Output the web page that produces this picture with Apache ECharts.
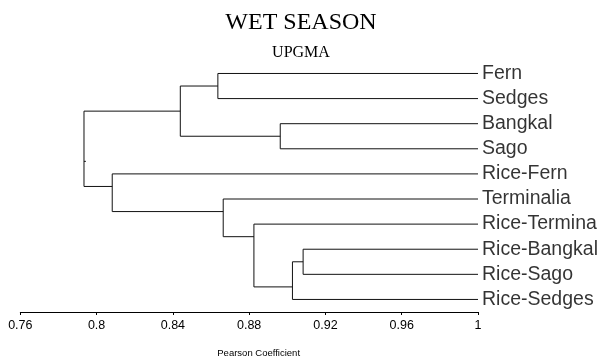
<!DOCTYPE html>
<html>
<head>
<meta charset="utf-8">
<script src="https://cdn.jsdelivr.net/npm/echarts@6/dist/echarts.min.js"></script>
<style>html,body{margin:0;padding:0;background:#fff;}#c{width:602px;height:363px;}</style>
</head>
<body>
<div id="c"></div>
<script>
// Leaves (top to bottom), each at similarity 1
const leaves = ['Fern','Sedges','Bangkal','Sago','Rice-Fern','Terminalia','Rice-Termina','Rice-Bangkal','Rice-Sago','Rice-Sedges'];
// Internal nodes of the UPGMA tree
const nodeNames    = ['FS','BS','Top','RBRS','RSed','RT','Term','Bottom','Root'];
const nodeCoef     = [0.8636, 0.8963, 0.8439, 0.9083, 0.9027, 0.8825, 0.8664, 0.8082, 0.7934];
const nodePos      = [0.5, 2.5, 1.5, 7.5, 8.5, 6.5, 5.5, 4.5, 3.5];
const nodeChildren = [['Fern','Sedges'],['Bangkal','Sago'],['FS','BS'],['Rice-Bangkal','Rice-Sago'],['RBRS','Rice-Sedges'],['Rice-Termina','RSed'],['Terminalia','RT'],['Rice-Fern','Term'],['Top','Bottom']];
// Axis
const xMin = 0.76, xMax = 1, xStep = 0.04;

function nodeInfo(name){
  const li = leaves.indexOf(name);
  if (li >= 0) return {x: 1, y: li};
  const ni = nodeNames.indexOf(name);
  return {x: nodeCoef[ni], y: nodePos[ni]};
}
const pathData = [];
nodeNames.forEach((n, i) => {
  const a = nodeInfo(nodeChildren[i][0]);
  const b = nodeInfo(nodeChildren[i][1]);
  const x = nodeCoef[i];
  pathData.push([a.x, a.y], [x, a.y], [x, b.y], [b.x, b.y], null);
});
// root marker stub
const rootI = nodeNames.indexOf('Root');
pathData.push([nodeCoef[rootI], nodePos[rootI]], [nodeCoef[rootI] + 0.001, nodePos[rootI]], null);

const chart = echarts.init(document.getElementById('c'), null, {renderer: 'canvas'});
chart.setOption({
  animation: false,
  backgroundColor: '#fff',
  title: [
    {text: 'WET SEASON', left: 'center', top: 10.5, padding: 0,
     textStyle: {fontFamily: 'Liberation Serif', fontSize: 24, fontWeight: 'normal', color: '#000'}},
    {text: 'UPGMA', left: 'center', top: 44.5, padding: 0,
     textStyle: {fontFamily: 'Liberation Serif', fontSize: 16, fontWeight: 'normal', color: '#000'}}
  ],
  grid: {left: 20.3, right: 124, top: 10.7, bottom: 48.7, containLabel: false},
  xAxis: {
    type: 'value', min: xMin, max: xMax, interval: xStep,
    name: 'Pearson Coefficient', nameLocation: 'middle', nameGap: 36,
    nameTextStyle: {fontFamily: 'Liberation Sans', fontSize: 9.5, color: '#000', padding: [0, 0, 0, 19]},
    axisLine: {show: true, onZero: false, lineStyle: {color: '#000', width: 1}},
    axisTick: {show: true, inside: false, length: 3, lineStyle: {color: '#000'}},
    axisLabel: {fontFamily: 'Liberation Sans', fontSize: 12.5, color: '#000', margin: 7,
      formatter: v => String(parseFloat(v.toFixed(2)))},
    splitLine: {show: false}
  },
  yAxis: {
    type: 'value', min: -2.5, max: 9.5, inverse: true, show: false
  },
  series: [
    {
      type: 'line', data: pathData, symbol: 'none', connectNulls: false,
      lineStyle: {color: '#111', width: 1}, silent: true
    },
    {
      type: 'scatter', symbolSize: 0, silent: true,
      data: leaves.map((n, i) => ({value: [1, i], name: n})),
      label: {show: true, position: 'right', distance: 4, formatter: p => p.name,
        fontFamily: 'Liberation Sans', fontSize: 19.5, color: '#000'}
    }
  ]
});
</script>
</body>
</html>
